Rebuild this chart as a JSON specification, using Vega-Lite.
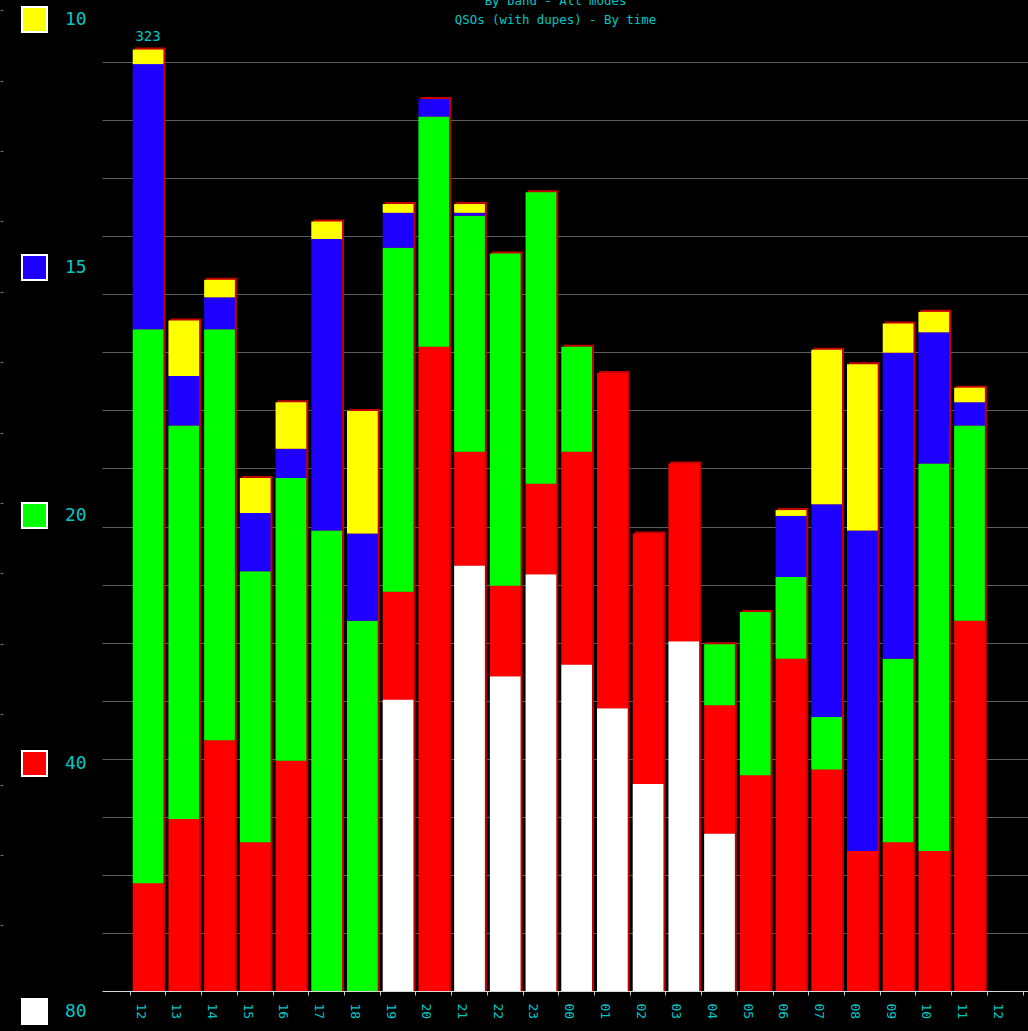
{
  "$schema": "https://vega.github.io/schema/vega-lite/v6.json",
  "width": 985,
  "height": 991,
  "autosize": "none",
  "padding": {"left": 102, "top": 0, "right": 0, "bottom": 40},
  "background": "#000000",
  "title": {
    "text": ["By band - All modes", "QSOs (with dupes) - By time"],
    "color": "#00c8c8",
    "font": "DejaVu Sans Mono",
    "fontSize": 12.4,
    "fontWeight": "normal",
    "lineHeight": 19,
    "offset": -26,
    "dx": -39,
    "frame": "group"
  },
  "config": {"view": {"stroke": null}},
  "resolve": {"axis": {"y": "independent"}},
  "data": {
    "values": [
      {"hour": "12", "band": "40", "qso": 37}, {"hour": "12", "band": "20", "qso": 190}, {"hour": "12", "band": "15", "qso": 91}, {"hour": "12", "band": "10", "qso": 5},
      {"hour": "13", "band": "40", "qso": 59}, {"hour": "13", "band": "20", "qso": 135}, {"hour": "13", "band": "15", "qso": 17}, {"hour": "13", "band": "10", "qso": 19},
      {"hour": "14", "band": "40", "qso": 86}, {"hour": "14", "band": "20", "qso": 141}, {"hour": "14", "band": "15", "qso": 11}, {"hour": "14", "band": "10", "qso": 6},
      {"hour": "15", "band": "40", "qso": 51}, {"hour": "15", "band": "20", "qso": 93}, {"hour": "15", "band": "15", "qso": 20}, {"hour": "15", "band": "10", "qso": 12},
      {"hour": "16", "band": "40", "qso": 79}, {"hour": "16", "band": "20", "qso": 97}, {"hour": "16", "band": "15", "qso": 10}, {"hour": "16", "band": "10", "qso": 16},
      {"hour": "17", "band": "20", "qso": 158}, {"hour": "17", "band": "15", "qso": 100}, {"hour": "17", "band": "10", "qso": 6},
      {"hour": "18", "band": "20", "qso": 127}, {"hour": "18", "band": "15", "qso": 30}, {"hour": "18", "band": "10", "qso": 42},
      {"hour": "19", "band": "80", "qso": 100}, {"hour": "19", "band": "40", "qso": 37}, {"hour": "19", "band": "20", "qso": 118}, {"hour": "19", "band": "15", "qso": 12}, {"hour": "19", "band": "10", "qso": 3},
      {"hour": "20", "band": "40", "qso": 221}, {"hour": "20", "band": "20", "qso": 79}, {"hour": "20", "band": "15", "qso": 6},
      {"hour": "21", "band": "80", "qso": 146}, {"hour": "21", "band": "40", "qso": 39}, {"hour": "21", "band": "20", "qso": 81}, {"hour": "21", "band": "15", "qso": 1}, {"hour": "21", "band": "10", "qso": 3},
      {"hour": "22", "band": "80", "qso": 108}, {"hour": "22", "band": "40", "qso": 31}, {"hour": "22", "band": "20", "qso": 114},
      {"hour": "23", "band": "80", "qso": 143}, {"hour": "23", "band": "40", "qso": 31}, {"hour": "23", "band": "20", "qso": 100},
      {"hour": "00", "band": "80", "qso": 112}, {"hour": "00", "band": "40", "qso": 73}, {"hour": "00", "band": "20", "qso": 36},
      {"hour": "01", "band": "80", "qso": 97}, {"hour": "01", "band": "40", "qso": 115},
      {"hour": "02", "band": "80", "qso": 71}, {"hour": "02", "band": "40", "qso": 86},
      {"hour": "03", "band": "80", "qso": 120}, {"hour": "03", "band": "40", "qso": 61},
      {"hour": "04", "band": "80", "qso": 54}, {"hour": "04", "band": "40", "qso": 44}, {"hour": "04", "band": "20", "qso": 21},
      {"hour": "05", "band": "40", "qso": 74}, {"hour": "05", "band": "20", "qso": 56},
      {"hour": "06", "band": "40", "qso": 114}, {"hour": "06", "band": "20", "qso": 28}, {"hour": "06", "band": "15", "qso": 21}, {"hour": "06", "band": "10", "qso": 2},
      {"hour": "07", "band": "40", "qso": 76}, {"hour": "07", "band": "20", "qso": 18}, {"hour": "07", "band": "15", "qso": 73}, {"hour": "07", "band": "10", "qso": 53},
      {"hour": "08", "band": "40", "qso": 48}, {"hour": "08", "band": "15", "qso": 110}, {"hour": "08", "band": "10", "qso": 57},
      {"hour": "09", "band": "40", "qso": 51}, {"hour": "09", "band": "20", "qso": 63}, {"hour": "09", "band": "15", "qso": 105}, {"hour": "09", "band": "10", "qso": 10},
      {"hour": "10", "band": "40", "qso": 48}, {"hour": "10", "band": "20", "qso": 133}, {"hour": "10", "band": "15", "qso": 45}, {"hour": "10", "band": "10", "qso": 7},
      {"hour": "11", "band": "40", "qso": 127}, {"hour": "11", "band": "20", "qso": 67}, {"hour": "11", "band": "15", "qso": 8}, {"hour": "11", "band": "10", "qso": 5}
    ]
  },
  "layer": [
    {
      "mark": {"type": "bar", "color": "#c40000", "xOffset": 2, "yOffset": -2},
      "encoding": {
        "x": {
          "field": "hour", "type": "nominal",
          "scale": {
            "domain": ["12","13","14","15","16","17","18","19","20","21","22","23","00","01","02","03","04","05","06","07","08","09","10","11"," 12"," 13"],
            "paddingInner": 0.14, "paddingOuter": 0.86, "align": 0.5
          },
          "axis": {
            "title": null, "labelAngle": 90, "labelColor": "#00c8c8", "labelFont": "DejaVu Sans Mono",
            "labelFontSize": 13, "bandPosition": 0, "tickOffset": -3, "labelOffset": -5,
            "tickColor": "#c8c8c8", "tickSize": 4, "domainColor": "#d8d8d8", "labelPadding": 8,
            "labelExpr": "trim(datum.label)", "grid": false
          }
        },
        "y": {
          "aggregate": "sum", "field": "qso", "type": "quantitative",
          "scale": {"domain": [0, 340], "nice": false},
          "axis": {
            "title": null, "labels": false, "ticks": false, "domain": false, "grid": true,
            "gridColor": "#5c5c5c", "gridWidth": 1.2,
            "values": [19.92,39.84,59.76,79.68,99.6,119.52,139.44,159.36,179.28,199.2,219.12,239.04,258.96,278.88,298.8,318.72]
          }
        }
      }
    },
    {
      "mark": {"type": "bar"},
      "encoding": {
        "x": {"field": "hour", "type": "nominal"},
        "y": {
          "field": "qso", "type": "quantitative", "stack": "zero", "title": null,
          "axis": {
            "orient": "left", "offset": 99, "title": null, "labels": false, "domain": false, "grid": false,
            "ticks": true, "tickSize": 3, "tickColor": "#6a6a6a", "tickWidth": 1.2,
            "values": [22.54,46.69,70.84,94.99,119.14,143.29,167.44,191.59,215.74,239.89,264.04,288.19,312.34,336.49]
          }
        },
        "color": {
          "field": "band", "type": "nominal",
          "scale": {"domain": ["10","15","20","40","80"], "range": ["#ffff00","#1e00ff","#00ff00","#ff0000","#ffffff"]},
          "legend": {
            "orient": "none", "legendX": -81, "legendY": 6, "title": null,
            "symbolType": "square", "symbolSize": 625, "symbolStrokeColor": "#ffffff", "symbolStrokeWidth": 2,
            "symbolOpacity": 1,
            "labelColor": "#00c8c8", "labelFont": "DejaVu Sans Mono", "labelFontSize": 18, "labelOffset": 17,
            "rowPadding": 215
          }
        },
        "order": {"field": "band", "sort": "descending"}
      }
    },
    {
      "transform": [
        {"aggregate": [{"op": "sum", "field": "qso", "as": "total"}], "groupby": ["hour"]},
        {"joinaggregate": [{"op": "max", "field": "total", "as": "mx"}]},
        {"filter": "datum.total == datum.mx"}
      ],
      "mark": {"type": "text", "dy": -9, "baseline": "alphabetic", "color": "#00c8c8", "font": "DejaVu Sans Mono", "fontSize": 14},
      "encoding": {
        "x": {"field": "hour", "type": "nominal"},
        "y": {"field": "total", "type": "quantitative", "title": null, "axis": null},
        "text": {"field": "total", "type": "quantitative"}
      }
    }
  ]
}
